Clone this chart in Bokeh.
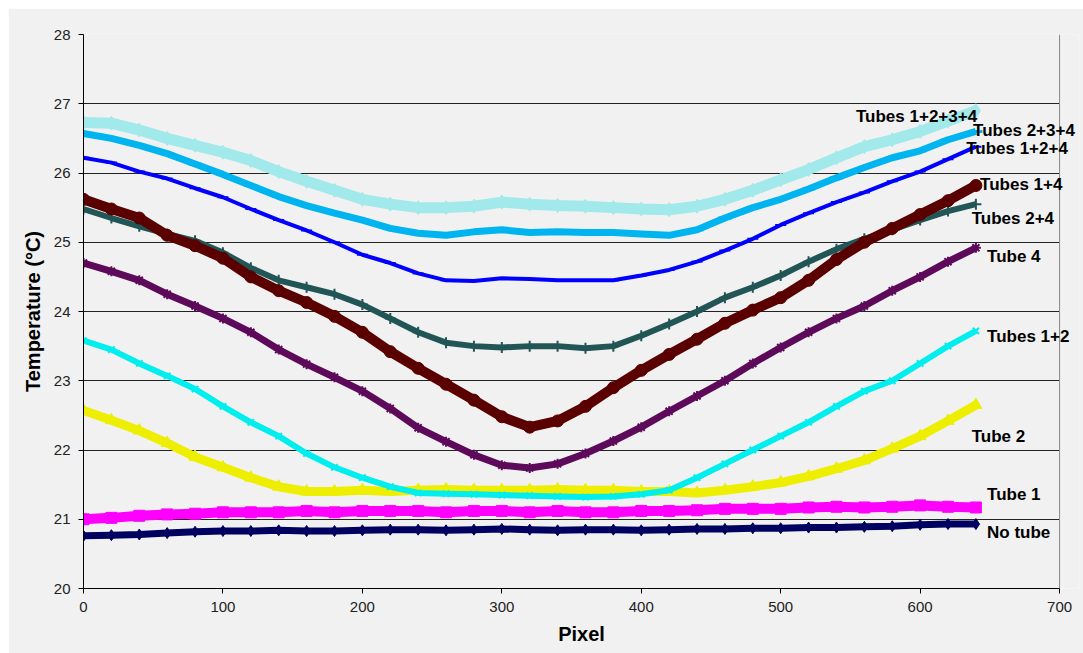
from bokeh.plotting import figure
from bokeh.models import Label, FixedTicker, Range1d, Span, Title
from bokeh.embed import file_html
from bokeh.resources import INLINE

# ---------------- data ----------------
pixel = list(range(0, 641, 20))

no_tube = [20.76, 20.77, 20.78, 20.80, 20.82, 20.83, 20.83, 20.84, 20.83, 20.83, 20.84,
           20.85, 20.85, 20.84, 20.85, 20.86, 20.85, 20.84, 20.85, 20.85, 20.84, 20.85,
           20.86, 20.86, 20.87, 20.87, 20.88, 20.88, 20.89, 20.90, 20.92, 20.93, 20.93]
tube_1 = [21.00, 21.02, 21.05, 21.07, 21.08, 21.10, 21.10, 21.10, 21.12, 21.10, 21.12,
          21.12, 21.12, 21.10, 21.12, 21.12, 21.10, 21.12, 21.10, 21.10, 21.12, 21.12,
          21.13, 21.15, 21.15, 21.15, 21.17, 21.18, 21.17, 21.18, 21.20, 21.18, 21.17]
tube_2 = [22.57, 22.43, 22.28, 22.10, 21.90, 21.75, 21.60, 21.47, 21.40, 21.40, 21.42,
          21.40, 21.42, 21.43, 21.42, 21.42, 21.42, 21.43, 21.42, 21.42, 21.40, 21.40,
          21.38, 21.42, 21.47, 21.53, 21.62, 21.73, 21.85, 22.02, 22.20, 22.42, 22.65]
tubes_1_2 = [23.58, 23.45, 23.25, 23.07, 22.88, 22.63, 22.40, 22.20, 21.95, 21.75, 21.60,
             21.47, 21.38, 21.37, 21.36, 21.35, 21.34, 21.33, 21.32, 21.33, 21.36, 21.42,
             21.60, 21.80, 22.00, 22.20, 22.40, 22.63, 22.85, 23.00, 23.25, 23.50, 23.72]
tube_4 = [24.70, 24.58, 24.45, 24.25, 24.08, 23.90, 23.70, 23.45, 23.24, 23.05, 22.85,
          22.60, 22.32, 22.12, 21.93, 21.78, 21.74, 21.80, 21.95, 22.13, 22.33, 22.56,
          22.78, 23.00, 23.25, 23.48, 23.70, 23.90, 24.08, 24.30, 24.50, 24.72, 24.92]
tubes_2_4 = [25.48, 25.35, 25.23, 25.12, 25.02, 24.85, 24.63, 24.45, 24.35, 24.25, 24.10,
             23.90, 23.70, 23.55, 23.50, 23.48, 23.50, 23.50, 23.47, 23.50, 23.65, 23.82,
             24.00, 24.20, 24.35, 24.52, 24.72, 24.90, 25.05, 25.18, 25.32, 25.45, 25.55]
tubes_1_4 = [25.62, 25.48, 25.35, 25.10, 24.95, 24.77, 24.50, 24.30, 24.13, 23.93, 23.70,
             23.42, 23.18, 22.95, 22.72, 22.48, 22.33, 22.42, 22.63, 22.90, 23.15, 23.38,
             23.60, 23.83, 24.02, 24.20, 24.45, 24.75, 25.00, 25.20, 25.40, 25.60, 25.82]
tubes_1_2_4 = [26.22, 26.15, 26.02, 25.92, 25.78, 25.65, 25.48, 25.32, 25.17, 25.00, 24.82,
               24.70, 24.55, 24.45, 24.44, 24.48, 24.47, 24.45, 24.45, 24.45, 24.52, 24.60,
               24.72, 24.88, 25.05, 25.25, 25.42, 25.58, 25.72, 25.88, 26.02, 26.20, 26.38]
tubes_2_3_4 = [26.57, 26.50, 26.40, 26.28, 26.13, 25.98, 25.82, 25.66, 25.53, 25.42, 25.32,
               25.20, 25.13, 25.10, 25.15, 25.18, 25.14, 25.15, 25.14, 25.14, 25.12, 25.10,
               25.18, 25.35, 25.50, 25.62, 25.77, 25.93, 26.08, 26.22, 26.32, 26.48, 26.60]
tubes_1_2_3_4 = [26.73, 26.72, 26.62, 26.50, 26.40, 26.30, 26.18, 26.02, 25.88, 25.75, 25.62,
                 25.55, 25.50, 25.50, 25.52, 25.58, 25.55, 25.53, 25.52, 25.50, 25.48, 25.47,
                 25.52, 25.62, 25.75, 25.90, 26.05, 26.22, 26.38, 26.48, 26.60, 26.75, 26.90]

series_names = ["No tube", "Tube 1", "Tube 2", "Tubes 1+2", "Tube 4",
                "Tubes 2+4", "Tubes 1+4", "Tubes 1+2+4", "Tubes 2+3+4", "Tubes 1+2+3+4"]
series_values = [no_tube, tube_1, tube_2, tubes_1_2, tube_4,
                 tubes_2_4, tubes_1_4, tubes_1_2_4, tubes_2_3_4, tubes_1_2_3_4]

x_ticks = [0, 100, 200, 300, 400, 500, 600, 700]
y_ticks = [20, 21, 22, 23, 24, 25, 26, 27, 28]
x_axis_end = 700

# label anchor positions (data units)
label_x = [648, 648, 637, 648, 648, 637, 643, 633, 638, 554]
label_y = [20.81, 21.36, 22.19, 23.64, 24.80, 25.34, 25.84, 26.35, 26.62, 26.81]

# ---------------- styles ----------------
styles = [
    # color, marker, band width, marker size, marker line width
    ("#000060", "diamond", 7, 11, 1),
    ("#ff00ff", "square", 10, 11, 1),
    ("#eeee00", "triangle", 9, 12, 1),
    ("#00eeee", "x", 6, 9, 2),
    ("#5e0a5a", "asterisk", 7, 10, 2),
    ("#225555", "cross", 6, 11, 2),
    ("#5a0000", "circle", 10, 12, 1),
    ("#0000ff", "dash", 4, 11, 2),
    ("#00b4f0", "dash", 7, 13, 3),
    ("#a2e9eb", "diamond", 11, 14, 1),
]

FONT = "Liberation Sans"
BG = "#f1f1f1"

# frame extends a little past 700 so the end labels are not clipped;
# axis, grid and border are bounded at 700 like the original
p = figure(width=1075, height=645, output_backend="svg", toolbar_location=None,
           x_range=Range1d(0, 714.3), y_range=Range1d(20, 28),
           min_border_left=75, min_border_right=4, min_border_top=26, min_border_bottom=65)
p.margin = (8, 0, 0, 8)
p.background_fill_color = BG
p.border_fill_color = BG
p.outline_line_color = None

p.xgrid.visible = False
p.ygrid.grid_line_color = "#222222"
p.ygrid.grid_line_width = 1
p.ygrid.cross_bounds = (0, x_axis_end)

p.add_layout(Span(location=x_axis_end, dimension="height",
                  line_color="#888888", line_width=1, level="underlay"))

for vals, (col, mk, lw, sz, mlw) in zip(series_values, styles):
    p.line(pixel, vals, line_color=col, line_width=lw)
    if mk in ("x", "asterisk", "cross", "dash"):
        p.scatter(pixel, vals, marker=mk, size=sz, line_color=col, line_width=mlw)
    else:
        p.scatter(pixel, vals, marker=mk, size=sz, fill_color=col, line_color=col)

for txt, lx, ly in zip(series_names, label_x, label_y):
    p.add_layout(Label(x=lx, y=ly, text=txt, text_font=FONT, text_font_size="17px",
                       text_font_style="bold", text_color="#000000",
                       text_baseline="middle", text_align="left"))

p.xaxis.ticker = FixedTicker(ticks=x_ticks)
p.yaxis.ticker = FixedTicker(ticks=y_ticks)
p.xaxis.bounds = (0, x_axis_end)
for ax in (p.xaxis[0], p.yaxis[0]):
    ax.axis_line_color = "#000000"
    ax.major_tick_line_color = "#000000"
    ax.major_tick_out = 5
    ax.major_tick_in = 0
    ax.minor_tick_line_color = None
    ax.major_label_text_font = FONT
    ax.major_label_text_font_size = "15px"
    ax.major_label_text_color = "#222222"
    ax.axis_label_text_font = FONT
    ax.axis_label_text_font_size = "20px"
    ax.axis_label_text_font_style = "bold"
    ax.axis_label_text_color = "#000000"

p.yaxis.axis_label = "Temperature (°C)"
p.xaxis.major_label_standoff = 8
p.yaxis.major_label_standoff = 8
p.yaxis.axis_label_standoff = 7

p.add_layout(Title(text="Pixel", align="center", offset=-14, text_font=FONT,
                   text_font_size="20px", text_font_style="bold", text_color="#000000",
                   standoff=12), "below")

open("out.html", "w").write(file_html(p, INLINE))
